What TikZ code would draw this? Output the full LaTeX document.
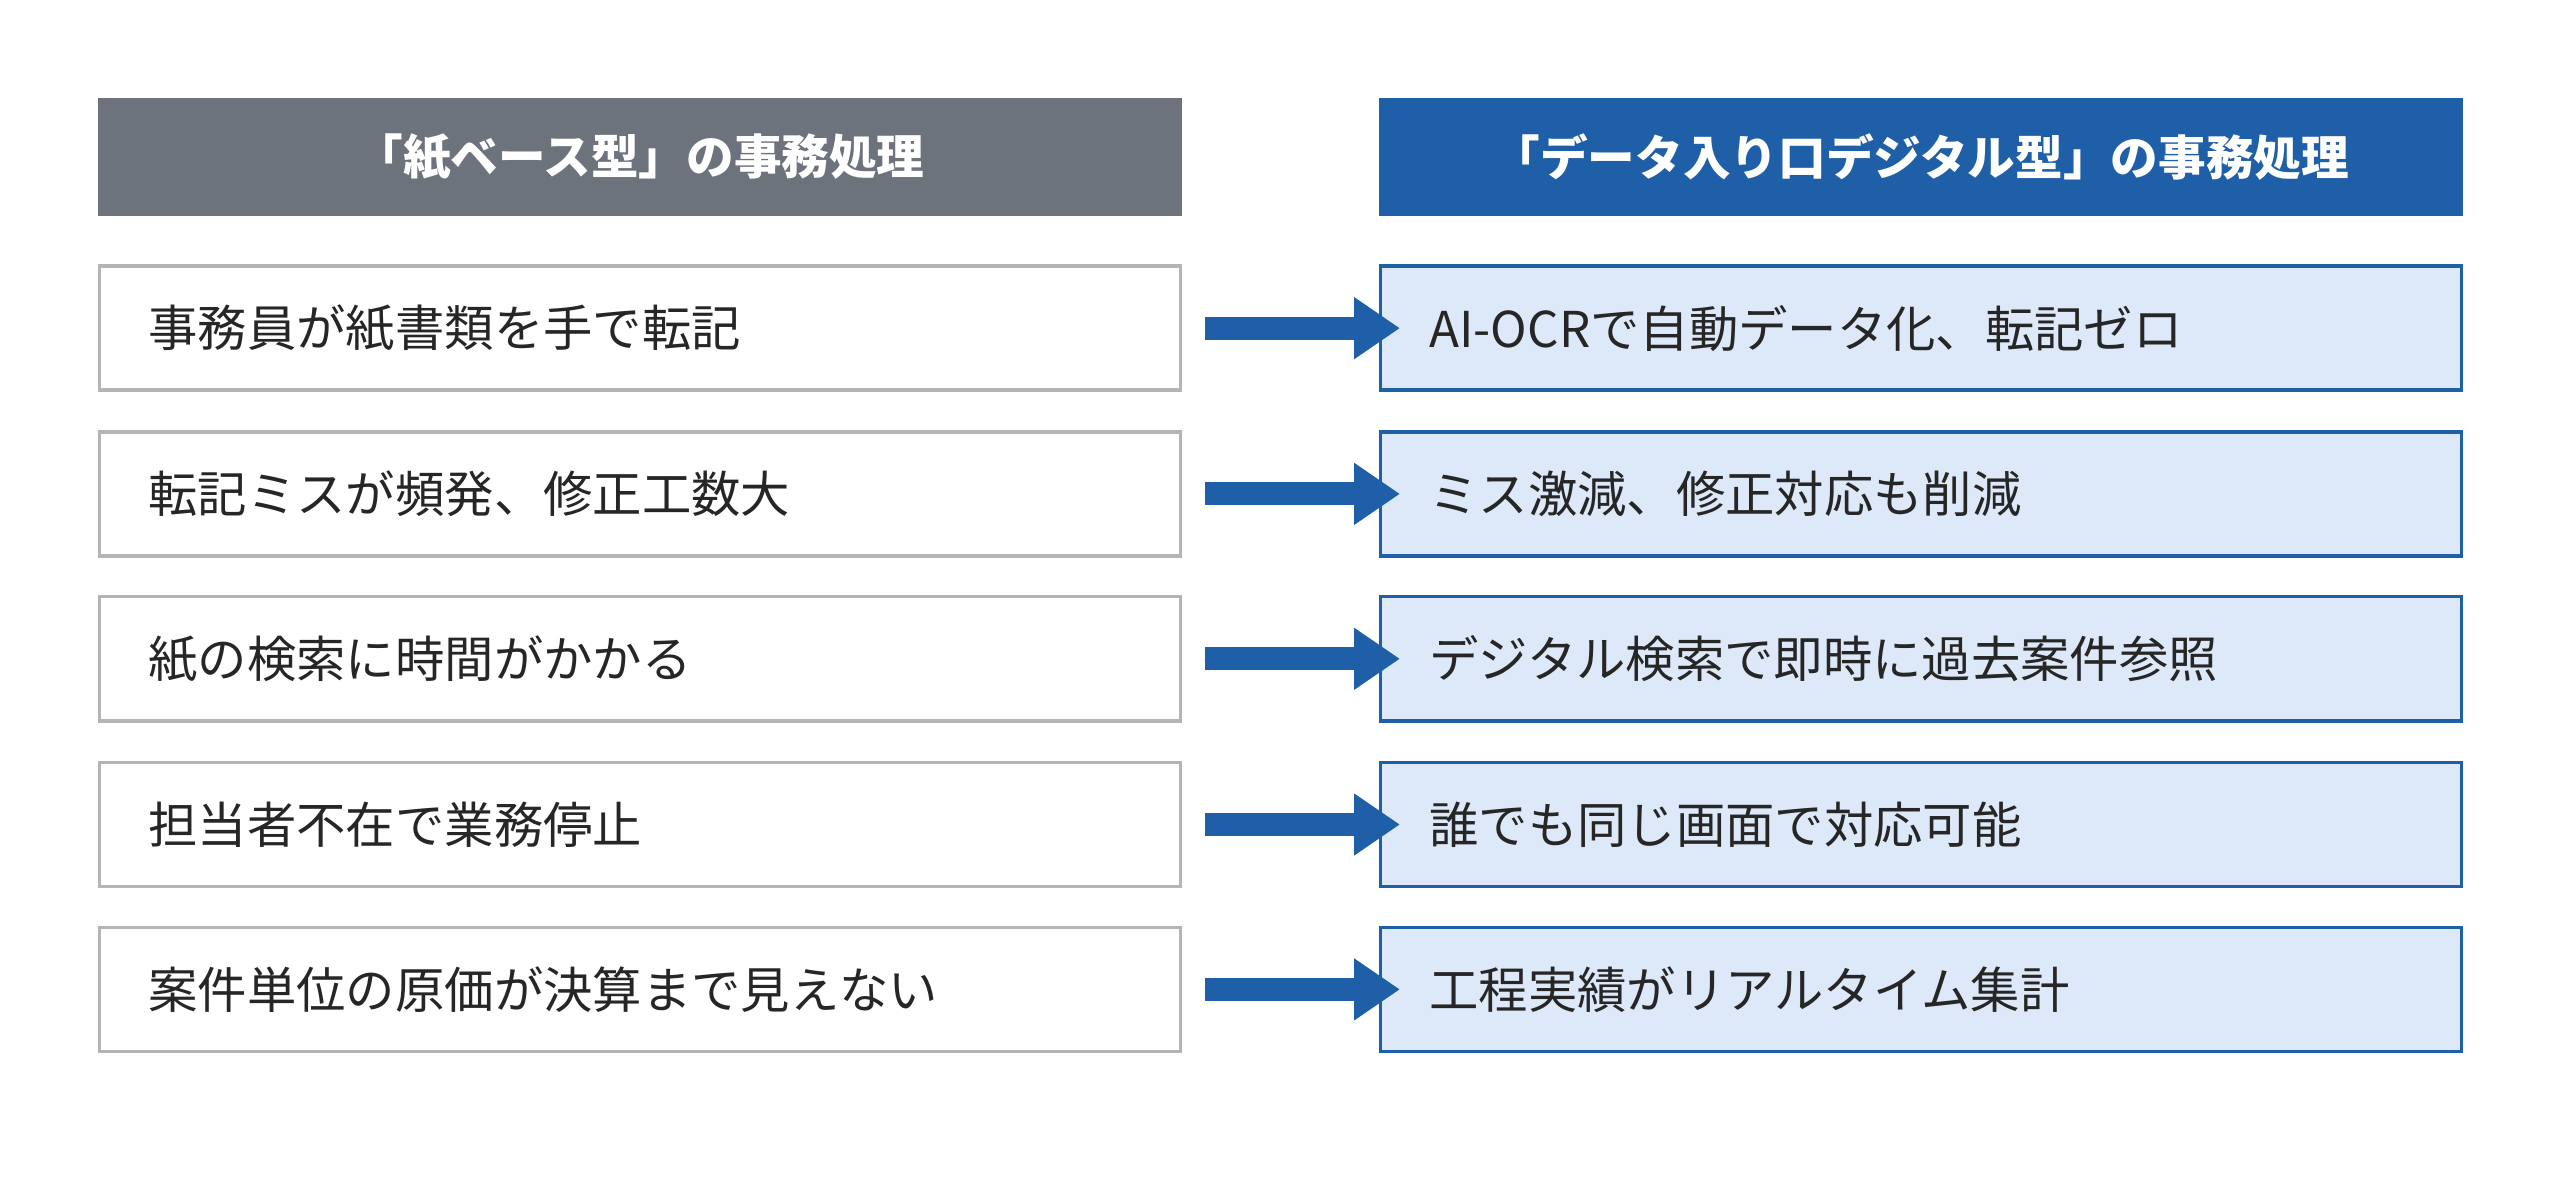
\documentclass[tikz,border=0pt]{standalone}
\usepackage{fontspec}
\setmainfont{Noto Sans CJK JP}
\usetikzlibrary{arrows.meta}
\definecolor{hdgray}{HTML}{6C737C}
\definecolor{hdblue}{HTML}{1F5FA8}
\definecolor{boxblue}{HTML}{DDE9F8}
\definecolor{boxline}{HTML}{B4B4B4}
\tikzset{
  head/.style={rectangle, minimum width=6.64cm, minimum height=0.72cm, inner sep=0pt,
    text=white, font=\fontsize{8.3}{10}\selectfont\bfseries},
  oldbox/.style={rectangle, draw=boxline, line width=0.6pt, fill=white,
    minimum width=6.62cm, minimum height=0.76cm, inner sep=0pt,
    text width=6.02cm, align=left, font=\fontsize{8.6}{10}\selectfont, text=black!85},
  newbox/.style={oldbox, draw=hdblue, fill=boxblue},
  arrow/.style={draw=hdblue, line width=0.14cm, -{Triangle[length=0.28cm,width=0.36cm]},
    shorten <=0.14cm, shorten >=-0.13cm}
}
\begin{document}
\begin{tikzpicture}
      \useasboundingbox (0,0) rectangle (15.68,-7.30);

      \node[head, fill=hdgray] (oldH) at (3.92,-0.96)  {「紙ベース型」の事務処理};
      \node[head, fill=hdblue] (newH) at (11.765,-0.96) {「データ入り口デジタル型」の事務処理};

      \node[oldbox] (old1) at (3.92,-2.01) {事務員が紙書類を手で転記\\[0.06cm]};
      \node[oldbox] (old2) at (3.92,-3.025) {転記ミスが頻発、修正工数大\\[0.06cm]};
      \node[oldbox] (old3) at (3.92,-4.035) {紙の検索に時間がかかる\\[0.06cm]};
      \node[oldbox] (old4) at (3.92,-5.05) {担当者不在で業務停止\\[0.06cm]};
      \node[oldbox] (old5) at (3.92,-6.06) {案件単位の原価が決算まで見えない\\[0.06cm]};

      \node[newbox] (new1) at (11.765,-2.01) {AI-OCRで自動データ化、転記ゼロ\\[0.06cm]};
      \node[newbox] (new2) at (11.765,-3.025) {ミス激減、修正対応も削減\\[0.06cm]};
      \node[newbox] (new3) at (11.765,-4.035) {デジタル検索で即時に過去案件参照\\[0.06cm]};
      \node[newbox] (new4) at (11.765,-5.05) {誰でも同じ画面で対応可能\\[0.06cm]};
      \node[newbox] (new5) at (11.765,-6.06) {工程実績がリアルタイム集計\\[0.06cm]};

      \draw[arrow] (old1.east) -- (new1.west);
      \draw[arrow] (old2.east) -- (new2.west);
      \draw[arrow] (old3.east) -- (new3.west);
      \draw[arrow] (old4.east) -- (new4.west);
      \draw[arrow] (old5.east) -- (new5.west);
\end{tikzpicture}
\end{document}
